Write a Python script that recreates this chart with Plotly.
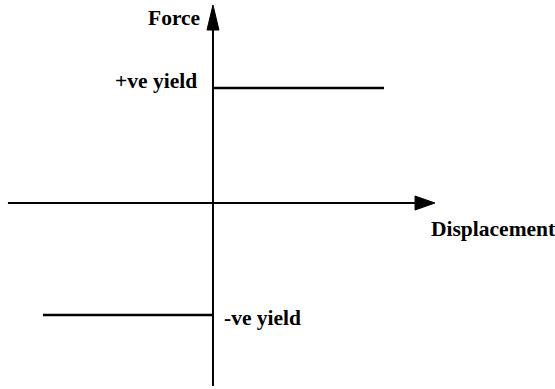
import plotly.graph_objects as go

# Data (normalised units: 1 unit = +ve yield force)
pos_yield_disp = [0.0, 1.487]
pos_yield_force = [1.0, 1.0]
neg_yield_disp = [-1.478, 0.0]
neg_yield_force = [-0.974, -0.974]

x_axis_disp = [-1.783, 1.76]
x_axis_force = [0.0, 0.0]
y_axis_disp = [0.0, 0.0]
y_axis_force = [-1.591, 1.51]

x_arrow_disp = [1.757, 1.930, 1.757, 1.757]
x_arrow_force = [0.061, 0.0, -0.061, 0.061]
y_arrow_disp = [-0.052, 0.0, 0.052, -0.052]
y_arrow_force = [1.504, 1.722, 1.504, 1.504]

labels = ["Force", "+ve yield", "Displacement", "-ve yield"]
label_x = [-0.096, -0.118, 1.878, 0.078]
label_y = [1.61, 1.06, -0.226, -1.0]
label_anchor = ["right", "right", "left", "left"]

fig = go.Figure()
line_style = dict(color="black", width=2)
fig.add_trace(go.Scatter(x=x_axis_disp, y=x_axis_force, mode="lines", line=line_style))
fig.add_trace(go.Scatter(x=y_axis_disp, y=y_axis_force, mode="lines", line=line_style))
fig.add_trace(go.Scatter(x=x_arrow_disp, y=x_arrow_force, mode="lines", fill="toself",
                         fillcolor="black", line=dict(color="black", width=1)))
fig.add_trace(go.Scatter(x=y_arrow_disp, y=y_arrow_force, mode="lines", fill="toself",
                         fillcolor="black", line=dict(color="black", width=1)))
fig.add_trace(go.Scatter(x=pos_yield_disp, y=pos_yield_force, mode="lines",
                         line=dict(color="black", width=2.5)))
fig.add_trace(go.Scatter(x=neg_yield_disp, y=neg_yield_force, mode="lines",
                         line=dict(color="black", width=2.5)))

for t, x, y, a in zip(labels, label_x, label_y, label_anchor):
    fig.add_annotation(x=x, y=y, text=f"<b>{t}</b>", showarrow=False,
                       xanchor=a, yanchor="middle",
                       font=dict(family="Liberation Serif", size=21.5, color="black"))

fig.update_layout(
    width=555, height=389,
    margin=dict(l=0, r=0, t=0, b=0),
    showlegend=False,
    paper_bgcolor="white", plot_bgcolor="white",
    xaxis=dict(range=[-1.852, 2.974], visible=False, fixedrange=True),
    yaxis=dict(range=[-1.617, 1.765], visible=False, fixedrange=True),
)
fig.write_html("out.html", config={"displayModeBar": False},
               post_script="document.body.style.margin='0';document.body.style.overflow='hidden';")
